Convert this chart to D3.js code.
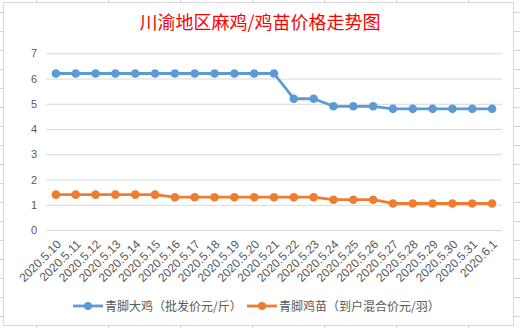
<!DOCTYPE html>
<html><head><meta charset="utf-8">
<script src="https://cdn.jsdelivr.net/npm/d3@7"></script>
<style>body{margin:0;background:#fff;}svg{display:block;}</style>
</head><body>
<svg id="c" width="520" height="328"></svg>
<script>
const categories = ["2020.5.10","2020.5.11","2020.5.12","2020.5.13","2020.5.14","2020.5.15","2020.5.16","2020.5.17","2020.5.18","2020.5.19","2020.5.20","2020.5.21","2020.5.22","2020.5.23","2020.5.24","2020.5.25","2020.5.26","2020.5.27","2020.5.28","2020.5.29","2020.5.30","2020.5.31","2020.6.1"];
const bigChicken = [6.2,6.2,6.2,6.2,6.2,6.2,6.2,6.2,6.2,6.2,6.2,6.2,5.2,5.2,4.9,4.9,4.9,4.8,4.8,4.8,4.8,4.8,4.8];
const chickSeed = [1.4,1.4,1.4,1.4,1.4,1.4,1.3,1.3,1.3,1.3,1.3,1.3,1.3,1.3,1.2,1.2,1.2,1.05,1.05,1.05,1.05,1.05,1.05];
const seriesNames = ["青脚大鸡（批发价元/斤）","青脚鸡苗（到户混合价元/羽）"];
const yTicks = [0,1,2,3,4,5,6,7];
const title = "川渝地区麻鸡/鸡苗价格走势图";

const svg = d3.select("#c");
const gridCol = "#d4d4d4";
// spreadsheet background grid
const bg = svg.append("g");
[36,108,180,252,324,396,468].forEach(x=>bg.append("line").attr("x1",x+0.5).attr("x2",x+0.5).attr("y1",0).attr("y2",328).attr("stroke",gridCol));
for(let k=0;k<18;k++){const y=Math.round(12+19*k)+0.5;bg.append("line").attr("x1",0).attr("x2",520).attr("y1",y).attr("y2",y).attr("stroke",gridCol);}
// chart frame
svg.append("rect").attr("x",3.5).attr("y",2.5).attr("width",510).attr("height",323).attr("fill","#fff").attr("stroke","#d9d9d9");

svg.append("text").attr("x",260).attr("y",29).attr("text-anchor","middle")
  .attr("font-family","'Noto Sans CJK SC'").attr("font-size",18).attr("fill","#ff0000").text(title);

const x = d3.scaleBand().domain(categories).range([46,502]);
const y = d3.scaleLinear().domain([0,7]).range([230,53.3]);
const font = "'Liberation Sans','Noto Sans CJK SC'";

const gy = svg.append("g").attr("transform","translate(46,0)")
  .call(d3.axisLeft(y).tickValues(yTicks).tickSize(-456).tickPadding(9).tickFormat(d3.format("d")));
gy.select(".domain").remove();
gy.selectAll(".tick line").attr("stroke","#d9d9d9");
gy.selectAll(".tick text").attr("fill","#595959").attr("font-family",font).attr("font-size",11);

const gx = svg.append("g").attr("transform","translate(0,230)")
  .call(d3.axisBottom(x).tickSize(0).tickPadding(0));
gx.select(".domain").remove();
gx.selectAll(".tick text").attr("fill","#595959").attr("font-family",font).attr("font-size",12)
  .attr("text-anchor","end").attr("dy",0).attr("y",0)
  .attr("transform","translate(6,15) rotate(-45)");

const series = [{v:bigChicken,c:"#5b9bd5"},{v:chickSeed,c:"#ed7d31"}];
const line = d3.line().x((d,i)=>x(categories[i])+x.bandwidth()/2).y(d=>y(d));
series.forEach(s=>{
  svg.append("path").datum(s.v).attr("d",line).attr("fill","none").attr("stroke",s.c).attr("stroke-width",2.8).attr("stroke-linejoin","round");
  svg.append("g").selectAll("circle").data(s.v).join("circle")
    .attr("cx",(d,i)=>x(categories[i])+x.bandwidth()/2).attr("cy",d=>y(d)).attr("r",4.3).attr("fill",s.c);
});

// legend
const lg = svg.append("g");
const lx = [73,247];
seriesNames.forEach((n,i)=>{
  const c = series[i].c;
  lg.append("line").attr("x1",lx[i]).attr("x2",lx[i]+30).attr("y1",306).attr("y2",306).attr("stroke",c).attr("stroke-width",2.8);
  lg.append("circle").attr("cx",lx[i]+15).attr("cy",306).attr("r",4).attr("fill",c);
  lg.append("text").attr("x",lx[i]+32).attr("y",310.5).attr("font-family","'Noto Sans CJK SC'").attr("font-size",12).attr("fill","#595959").text(n);
});
</script>
</body></html>
